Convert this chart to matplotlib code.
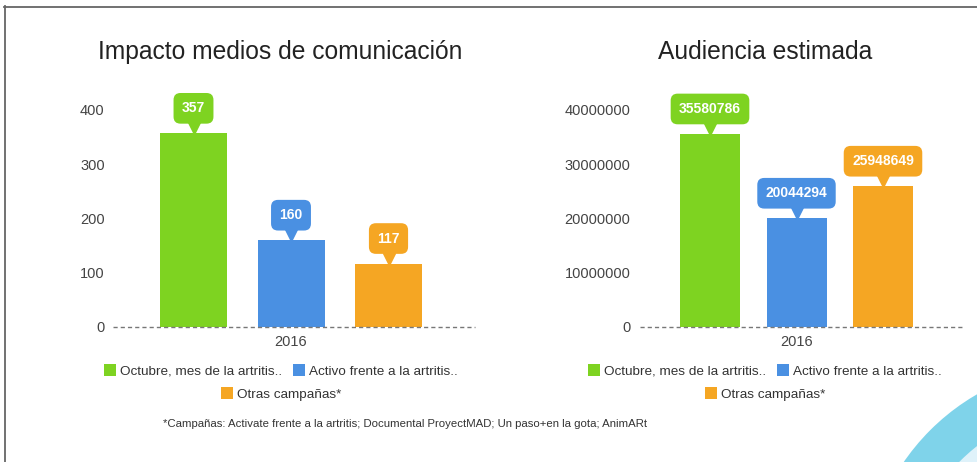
import matplotlib
matplotlib.use("Agg")
import matplotlib.pyplot as plt
from matplotlib.patches import Circle, Patch
from matplotlib.lines import Line2D
from matplotlib.transforms import offset_copy, IdentityTransform

plt.rcParams['font.family'] = ['Liberation Sans', 'DejaVu Sans']

# ---- data ----
series_names = ["Octubre, mes de la artritis..", "Activo frente a la artritis..", "Otras campañas*"]
colors = ["#7ED321", "#4A90E2", "#F5A623"]
year_label = "2016"
impacto_values = [357, 160, 117]
impacto_ticks = [0, 100, 200, 300, 400]
audiencia_values = [35580786, 20044294, 25948649]
audiencia_ticks = [0, 10000000, 20000000, 30000000, 40000000]
title_left = "Impacto medios de comunicación"
title_right = "Audiencia estimada"
footnote = "*Campañas: Activate frente a la artritis; Documental ProyectMAD; Un paso+en la gota; AnimARt"

W, H = 977, 462
DPI = 100
fig = plt.figure(figsize=(W / DPI, H / DPI), dpi=DPI)
fig.patch.set_facecolor("white")


def px_rect(x0, y0_top, x1, y1_bottom):
    return [x0 / W, 1 - y1_bottom / H, (x1 - x0) / W, (y1_bottom - y0_top) / H]


def draw_chart(rect, values, ticks, xlim, width, title, title_x, legend_cx, ypad):
    ax = fig.add_axes(rect)
    xs = list(range(len(values)))
    ax.bar(xs, values, width=width, color=colors, zorder=2)
    ax.set_xlim(*xlim)
    ax.set_ylim(ticks[0], ticks[-1])
    ax.set_yticks(ticks)
    ax.set_yticklabels([str(t) for t in ticks], fontsize=10.5, color="#444444")
    ax.set_xticks([1])
    ax.set_xticklabels([year_label], fontsize=10.5, color="#444444")
    ax.tick_params(axis='y', length=0, pad=ypad)
    ax.tick_params(axis='x', length=0, pad=6)
    for s in ax.spines.values():
        s.set_visible(False)
    ax.axhline(0, color="#777777", lw=1.0, ls=(0, (3, 2.2)), zorder=3, clip_on=False)
    ax.patch.set_alpha(0)
    # value callouts
    for x, v, c in zip(xs, values, colors):
        tr = offset_copy(ax.transData, fig=fig, x=0, y=5, units='dots')
        ax.plot([x], [v], marker='v', ms=9, color=c, transform=tr, clip_on=False, zorder=4)
        ax.annotate(str(v), xy=(x, v), xytext=(0, 18), textcoords='offset pixels',
                    ha='center', va='bottom', fontsize=10, fontweight='bold', color='white',
                    bbox=dict(boxstyle='round,pad=0.6,rounding_size=0.5', fc=c, ec='none'),
                    annotation_clip=False, zorder=5)
    fig.text(title_x / W, 1 - 52 / H, title, ha='center', va='center', fontsize=17.7, color="#222222")
    h1 = [Patch(facecolor=colors[i], edgecolor='none', label=series_names[i]) for i in range(2)]
    h2 = [Patch(facecolor=colors[2], edgecolor='none', label=series_names[2])]
    leg_kw = dict(frameon=False, fontsize=9.7, handlelength=0.9, handleheight=0.9,
                  handletextpad=0.3, columnspacing=0.8, borderpad=0, borderaxespad=0)
    l1 = fig.legend(handles=h1, ncol=2, loc='center', bbox_to_anchor=(legend_cx / W, 1 - 371 / H), **leg_kw)
    for t in l1.get_texts():
        t.set_color("#333333")
    l2 = fig.legend(handles=h2, ncol=1, loc='center', bbox_to_anchor=(legend_cx / W, 1 - 394 / H), **leg_kw)
    for t in l2.get_texts():
        t.set_color("#333333")
    return ax


# left chart: axis from x=113 to 475 px, baseline y=327, top (400) at y=110
sp_l = 97.5
draw_chart(px_rect(113, 110, 475, 327), impacto_values, impacto_ticks,
           (-(193.5 - 113) / sp_l, 2 + (475 - 388.5) / sp_l), 67 / sp_l,
           title_left, 280, 281, 6)
sp_r = 86.5
draw_chart(px_rect(640, 110, 963, 327), audiencia_values, audiencia_ticks,
           (-(710 - 640) / sp_r, 2 + (963 - 883) / sp_r), 60 / sp_r,
           title_right, 765, 765, 7)

fig.text(163 / W, 1 - 424 / H, footnote, ha='left', va='center', fontsize=8.2, color="#333333")

# frame lines (top and left)
fig.add_artist(Line2D([4.5 / W, 4.5 / W], [0, 1 - 6 / H], color="#666666", lw=1.3))
fig.add_artist(Line2D([4 / W, 1], [1 - 6.5 / H, 1 - 6.5 / H], color="#666666", lw=1.3))

# decorative corner arcs
fig.add_artist(Circle((1090, H - 590), 226, transform=IdentityTransform(), fc="#7FD3EA", ec='none'))
fig.add_artist(Circle((1090, H - 590), 183, transform=IdentityTransform(), fc="#DFF2FA", ec='none'))

fig.savefig("out.png", dpi=DPI)
